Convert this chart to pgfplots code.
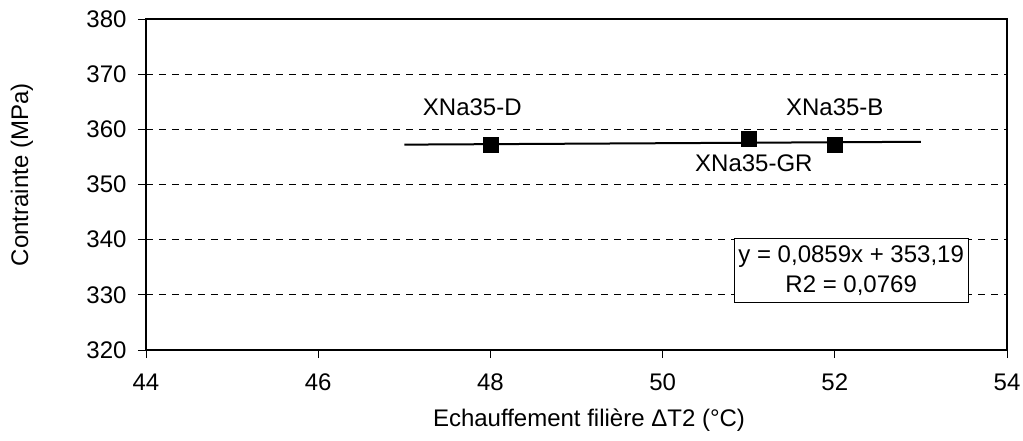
\documentclass[border=0pt]{standalone}
\usepackage{pgfplots}
\pgfplotsset{compat=1.18}
\usepackage{fontspec}
\setmainfont{Liberation Sans}
\begin{document}
\begin{tikzpicture}[font=\fontsize{24bp}{28bp}\selectfont]
\useasboundingbox (-146bp,-91bp) rectangle (877bp,350bp);
\begin{axis}[
  at={(0,0)}, anchor=south west,
  scale only axis, width=861bp, height=331bp,
  xmin=44, xmax=54, ymin=320, ymax=380,
  xtick={44,46,...,54}, ytick={320,330,...,380},
  xtick pos=bottom, ytick pos=left,
  tick align=outside, major tick length=8bp,
  tick style={black, line width=0.8bp},
  axis line style={black, line width=1.1bp},
  ymajorgrids,
  grid style={black, line width=0.8bp, dash pattern=on 7bp off 6bp},
  /pgf/number format/assume math mode=true,
  /pgf/number format/.cd, 1000 sep={}, /pgfplots/.cd,
  yticklabel style={anchor=east, xshift=-8bp},
  xticklabel style={anchor=center, yshift=-24bp},
  xlabel={Echauffement filière ΔT2 (°C)},
  ylabel={Contrainte (MPa)},
  xlabel style={at={(axis description cs:0.5145,-0.2115)}, anchor=center},
  ylabel style={at={(axis description cs:-0.144,0.529)}, anchor=center},
  clip=false,
]
\addplot[black, line width=2bp, no marks] coordinates {(47,357.227) (53,357.743)};
\addplot[only marks, mark=square*, mark size=7.5bp, mark options={fill=black, draw=black}] coordinates {
  (48,357.14) (51,358.26) (52,357.14)
};
\node at (axis cs:47.79,364.05) {XNa35-D};
\node at (axis cs:51.06,353.9) {XNa35-GR};
\node at (axis cs:52.0,364.0) {XNa35-B};
\node[draw=black, line width=0.8bp, fill=white, minimum width=234bp, minimum height=64bp, align=center,
      font=\fontsize{24bp}{30bp}\selectfont] at (axis cs:52.19,334.4) {y = 0,0859x + 353,19\\R2 = 0,0769};
\end{axis}
\end{tikzpicture}
\end{document}
